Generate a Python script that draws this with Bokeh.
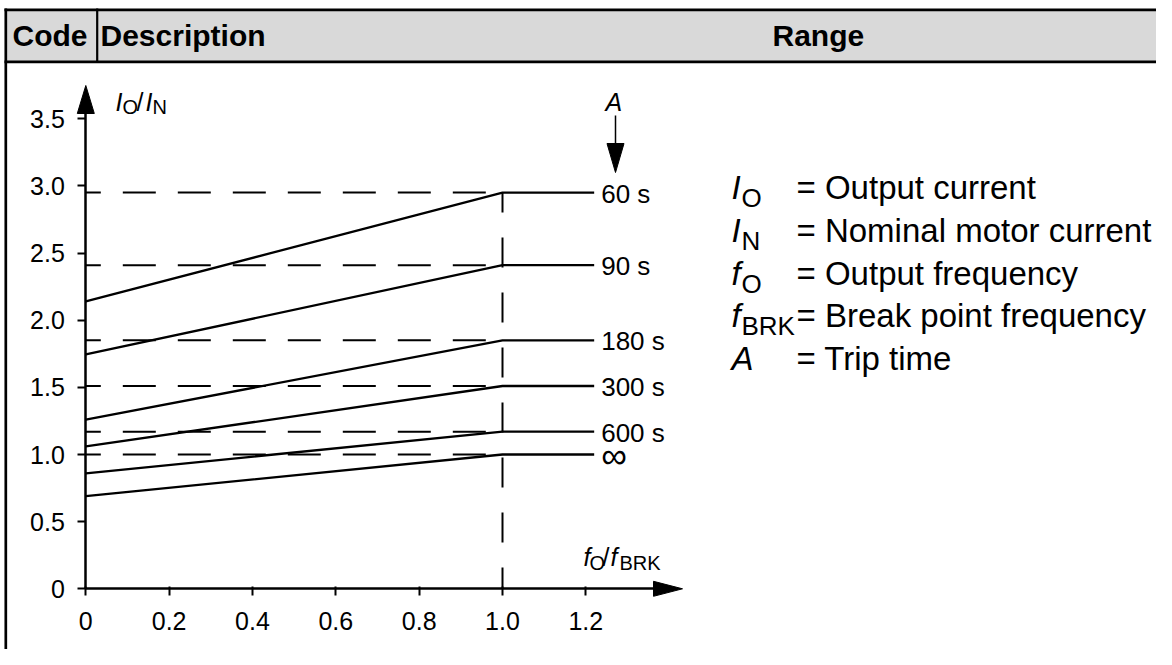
from bokeh.plotting import figure
from bokeh.models import Range1d, LinearAxis, FixedTicker, ColumnDataSource
from bokeh.core.properties import value
from bokeh.embed import file_html
from bokeh.resources import INLINE

# ---------------- data ----------------
trip_times = ["60 s", "90 s", "180 s", "300 s", "600 s", "\u221e"]
start_ratio = [2.14, 1.745, 1.26, 1.06, 0.86, 0.69]   # I_O/I_N at f_O/f_BRK = 0
end_ratio = [2.95, 2.41, 1.85, 1.51, 1.17, 1.00]      # I_O/I_N at f_O/f_BRK >= 1
start_freq = 0.0
break_freq = 1.0
label_freq = 1.22
x_ticks = [0, 0.2, 0.4, 0.6, 0.8, 1.0, 1.2]
x_tick_labels = ["0", "0.2", "0.4", "0.6", "0.8", "1.0", "1.2"]
y_ticks = [0, 0.5, 1.0, 1.5, 2.0, 2.5, 3.0, 3.5]
y_tick_labels = ["0", "0.5", "1.0", "1.5", "2.0", "2.5", "3.0", "3.5"]
header_titles = ["Code", "Description", "Range"]
legend_symbol = ["I", "I", "f", "f", "A"]
legend_sub = ["O", "N", "O", "BRK", ""]
legend_text = ["Output current", "Nominal motor current", "Output frequency",
               "Break point frequency", "Trip time"]

# ---------------- layout ----------------
FONT = "Liberation Sans"
W, H = 1156, 649
X0, SX = 85.3, 416.7   # px of x=0, px per unit
Y0, SY = 588.3, 134.3  # px of y=0, px per unit


def dx(px):
    return (px - X0) / SX


def dy(py):
    return (Y0 - py) / SY


p = figure(width=W, height=H, output_backend="svg", toolbar_location=None,
           x_range=Range1d(dx(0), dx(W)), y_range=Range1d(dy(H), dy(0)),
           x_axis_location=None, y_axis_location=None, min_border=0, tools="")
p.outline_line_color = None
p.background_fill_color = "white"
p.border_fill_color = "white"
for g in p.grid:
    g.visible = False


def lab(px, py, text, size, style="normal", align="left"):
    """Text whose cap-height centre sits at pixel (px, py)."""
    p.text(x=[dx(px)], y=[dy(py)], text=[text], text_font=value(FONT),
           text_font_size=value(f"{size}px"), text_font_style=value(style),
           text_align=value(align), text_baseline=value("middle"), text_color="black")


# ---------------- table header ----------------
p.quad(left=dx(5), right=dx(W), top=dy(9.5), bottom=dy(61), fill_color="#d9d9d9", line_color=None)
p.segment(x0=dx(4), y0=dy(9.3), x1=dx(W), y1=dy(9.3), line_color="black", line_width=2.7)
p.segment(x0=dx(4), y0=dy(61.3), x1=dx(W), y1=dy(61.3), line_color="black", line_width=2.7)
p.segment(x0=dx(5.3), y0=dy(8), x1=dx(5.3), y1=dy(H), line_color="black", line_width=2.7)
p.segment(x0=dx(96.7), y0=dy(8), x1=dx(96.7), y1=dy(61.3), line_color="black", line_width=2.2)
for hx, t in zip([12, 100, 772], header_titles):
    lab(hx, 34.5, t, 30, style="bold")

# ---------------- curves ----------------
label_sizes = ["36px" if t == "\u221e" else "26px" for t in trip_times]
src = ColumnDataSource(dict(
    xs=[[start_freq, break_freq, label_freq] for _ in trip_times],
    ys=[[s, e, e] for s, e in zip(start_ratio, end_ratio)],
    dxs=[[start_freq, break_freq] for _ in trip_times],
    dys=[[e, e] for e in end_ratio],
    lx=[label_freq] * len(trip_times),
    ly=end_ratio,
    label=trip_times,
    size=label_sizes,
))
p.multi_line("dxs", "dys", source=src, line_color="black", line_width=2,
             line_dash="33 22", line_dash_offset=18)
p.line(x=[break_freq, break_freq], y=[max(end_ratio), 0], line_color="black", line_width=2,
       line_dash="30 25", line_dash_offset=10)
p.multi_line("xs", "ys", source=src, line_color="black", line_width=2.3)
p.text(x="lx", y="ly", text="label", source=src, x_offset=7, y_offset=1,
       text_baseline="middle", text_align="left",
       text_font=value(FONT), text_font_size="size", text_color="black")

# ---------------- axes ----------------
yax = LinearAxis(fixed_location=0, ticker=FixedTicker(ticks=y_ticks, minor_ticks=[]),
                 major_label_overrides=dict(zip(y_ticks, y_tick_labels)),
                 bounds=(0, 3.6), axis_line_width=2.5, axis_line_color="black",
                 major_tick_line_width=2, major_tick_line_color="black",
                 major_tick_out=8, major_tick_in=0, minor_tick_line_color=None,
                 major_label_standoff=13, major_label_text_font=FONT,
                 major_label_text_font_size="25px", major_label_text_color="black")
p.add_layout(yax, "left")
xax = LinearAxis(fixed_location=0, ticker=FixedTicker(ticks=x_ticks, minor_ticks=[]),
                 major_label_overrides=dict(zip(x_ticks, x_tick_labels)),
                 bounds=(0, 1.37), axis_line_width=2.5, axis_line_color="black",
                 major_tick_line_width=2, major_tick_line_color="black",
                 major_tick_out=7, major_tick_in=2, minor_tick_line_color=None,
                 major_label_standoff=16, major_label_text_font=FONT,
                 major_label_text_font_size="25px", major_label_text_color="black")
p.add_layout(xax, "below")

# arrow heads
p.patches(xs=[[dx(85.3), dx(76.8), dx(93.8)],
              [dx(682), dx(653), dx(653)],
              [dx(615), dx(606.5), dx(623.5)]],
          ys=[[dy(85), dy(113), dy(113)],
              [dy(588.3), dy(580.8), dy(595.8)],
              [dy(172), dy(143), dy(143)]],
          fill_color="black", line_color="black", line_width=1)
p.segment(x0=dx(615), y0=dy(115), x1=dx(615), y1=dy(146), line_color="black", line_width=1.5)

# axis titles
lab(115, 101, "I", 25, style="italic")
lab(122, 106.5, "O", 20)
lab(136, 101, "/", 25)
lab(145, 101, "I", 25, style="italic")
lab(152, 106.5, "N", 20)

lab(583, 556, "f", 25, style="italic")
lab(589, 562, "O", 20)
lab(602, 556, "/", 25)
lab(610, 556, "f", 25, style="italic")
lab(619, 562, "BRK", 20)

lab(605, 101, "A", 25, style="italic")

# ---------------- legend ----------------
centers = [187, 230, 273, 315, 358]
for c, sym, sub, txt in zip(centers, legend_symbol, legend_sub, legend_text):
    lab(731, c, sym, 33, style="italic")
    if sub:
        lab(741, c + 10, sub, 26)
    lab(796, c, "= " + txt, 33)

open("out.html", "w").write(file_html(p, INLINE))
